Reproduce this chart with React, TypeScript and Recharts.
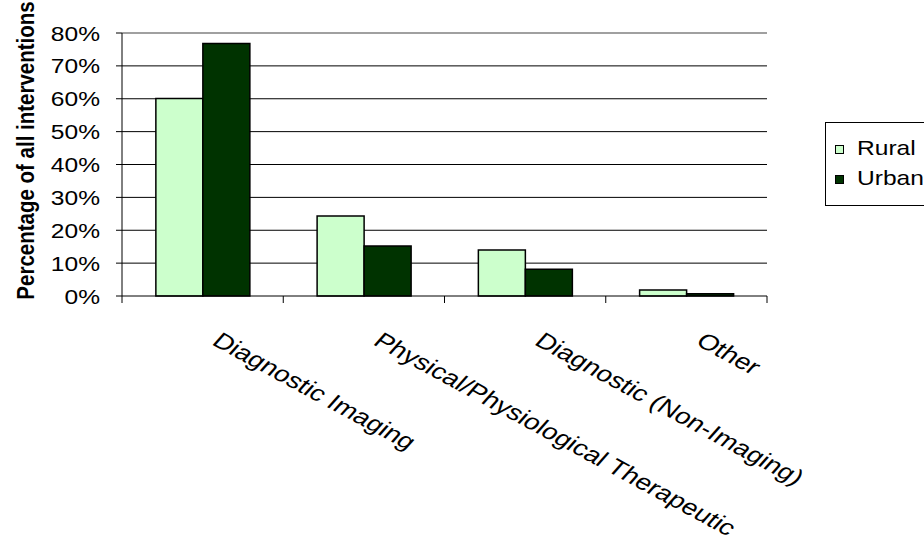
import React from 'react';
import { BarChart, Bar, XAxis, YAxis, CartesianGrid, Legend, ReferenceLine } from 'recharts';

// Share of all interventions (%) by category, for rural and urban settings
const categories = [
  'Diagnostic Imaging',
  'Physical/Physiological Therapeutic',
  'Diagnostic (Non-Imaging)',
  'Other',
];
const rural = [60.1, 24.3, 14.0, 1.8];
const urban = [76.8, 15.2, 8.1, 0.7];
const seriesNames = ['Rural', 'Urban'];
const seriesColors = ['#ccffcc', '#003300'];
const yTicks = [0, 10, 20, 30, 40, 50, 60, 70, 80];
const gridValues = [10, 20, 30, 40, 50, 60, 70];
const yTitle = 'Percentage of all interventions';

const data = categories.map((category, i) => ({
  category,
  [seriesNames[0]]: rural[i],
  [seriesNames[1]]: urban[i],
}));

const W = 924;
const H = 544;
const MARGIN = { top: 33, right: 157, bottom: 0, left: 0 };
const Y_AXIS_W = 122;
const X_AXIS_H = 248;
const PLOT_W = W - MARGIN.left - MARGIN.right - Y_AXIS_W;
const BAND = PLOT_W / categories.length;

const FONT = '"Liberation Sans", Arial, Helvetica, sans-serif';
const SX = 1.17; // text is drawn slightly wide
const FS = 21;

const YTick = (props: any) => {
  const { x, y, payload } = props;
  return (
    <g transform={`translate(${x},${y + 7.5}) scale(${SX},1)`}>
      <text textAnchor="end" fontFamily={FONT} fontSize={FS} fill="#000">
        {`${payload.value}%`}
      </text>
    </g>
  );
};

const XTick = (props: any) => {
  const { x, y, payload, index } = props;
  const left = x - BAND / 2;
  const last = index === categories.length - 1;
  return (
    <g>
      <line x1={left} y1={y} x2={left} y2={y + 7} stroke="#000" strokeWidth={1} />
      {last && (
        <line x1={x + BAND / 2} y1={y} x2={x + BAND / 2} y2={y + 7} stroke="#000" strokeWidth={1} />
      )}
      <g transform={`translate(${x + 8},${y + 48}) scale(1.28,1)`}>
        <text transform="rotate(34.7)" textAnchor="start" fontFamily={FONT} fontSize={22} fill="#000">
          {payload.value}
        </text>
      </g>
    </g>
  );
};

const LegendBox = (props: any) => {
  const { payload } = props;
  return (
    <div
      style={{
        position: 'relative',
        width: 110,
        height: 84,
        border: '1px solid #000',
        background: '#fff',
        boxSizing: 'border-box',
      }}
    >
      {(payload || []).map((p: any, i: number) => (
        <div key={p.value} style={{ position: 'absolute', left: 9, top: 21 + i * 30, height: 12 }}>
          <div
            style={{
              position: 'absolute',
              left: 0,
              top: 1,
              width: 9,
              height: 9,
              background: p.color,
              border: '1px solid #000',
              boxSizing: 'border-box',
            }}
          />
          <div
            style={{
              position: 'absolute',
              left: 22,
              top: -8,
              fontFamily: FONT,
              fontSize: FS,
              lineHeight: '24px',
              whiteSpace: 'nowrap',
              transform: `scaleX(${SX})`,
              transformOrigin: 'left center',
            }}
          >
            {p.value}
          </div>
        </div>
      ))}
    </div>
  );
};

export default function App() {
  return (
    <div style={{ position: 'absolute', left: 0, top: 0, width: W, height: H, background: '#fff', overflow: 'hidden' }}>
      <BarChart
        width={W}
        height={H}
        data={data}
        margin={MARGIN}
        barCategoryGap="21%"
        barGap={0}
      >
        <CartesianGrid horizontal vertical={false} horizontalValues={gridValues} stroke="#000" strokeWidth={1} />
        <ReferenceLine y={80} stroke="#808080" strokeWidth={1.5} />
        <XAxis
          dataKey="category"
          height={X_AXIS_H}
          interval={0}
          tickLine={false}
          tickSize={0}
          tickMargin={0}
          axisLine={{ stroke: '#000', strokeWidth: 1 }}
          tick={<XTick />}
        />
        <YAxis
          width={Y_AXIS_W}
          domain={[0, 80]}
          ticks={yTicks}
          interval={0}
          tickSize={6}
          tickMargin={16}
          axisLine={{ stroke: '#000', strokeWidth: 1 }}
          tickLine={{ stroke: '#000', strokeWidth: 1 }}
          tick={<YTick />}
        />
        <YAxis
          yAxisId="frame"
          orientation="right"
          width={0}
          tick={false}
          tickLine={false}
          axisLine={{ stroke: '#808080', strokeWidth: 1.5 }}
        />
        <Legend
          layout="horizontal"
          verticalAlign="middle"
          align="center"
          content={<LegendBox />}
          wrapperStyle={{ position: 'absolute', left: 825, top: 122, width: 110, height: 84, bottom: 'auto', right: 'auto' }}
        />
        {seriesNames.map((name, i) => (
          <Bar
            key={name}
            dataKey={name}
            fill={seriesColors[i]}
            stroke="#000"
            strokeWidth={1.5}
            isAnimationActive={false}
          />
        ))}
        <text
          transform={`translate(33.5,150.5) scale(${SX},1) rotate(-90)`}
          textAnchor="middle"
          fontFamily={FONT}
          fontSize={20.5}
          fontWeight="bold"
          fill="#000"
        >
          {yTitle}
        </text>
      </BarChart>
    </div>
  );
}
